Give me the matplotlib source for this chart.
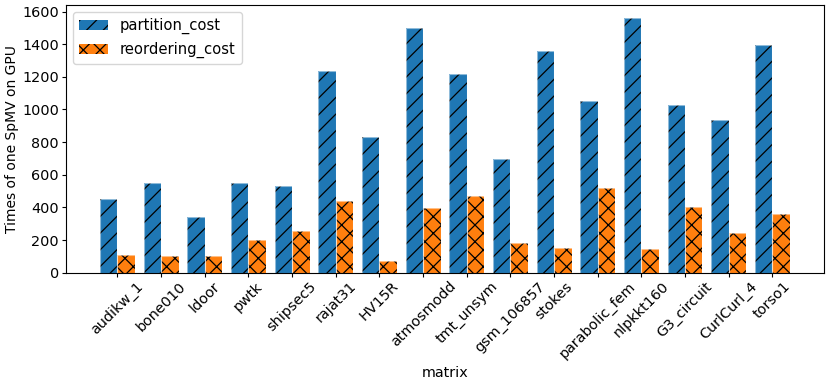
import matplotlib
matplotlib.use('Agg')
import matplotlib.pyplot as plt
import numpy as np

matrices = ['audikw_1', 'bone010', 'ldoor', 'pwtk', 'shipsec5', 'rajat31', 'HV15R',
            'atmosmodd', 'tmt_unsym', 'gsm_106857', 'stokes', 'parabolic_fem',
            'nlpkkt160', 'G3_circuit', 'CurlCurl_4', 'torso1']
partition_cost = [453, 552, 343, 550, 534, 1235, 831, 1502, 1217, 694, 1361,
                  1051, 1559, 1027, 933, 1392]
reordering_cost = [108, 103, 102, 201, 257, 439, 71, 394, 467, 180, 149,
                   518, 145, 402, 243, 359]
yticks = [0, 200, 400, 600, 800, 1000, 1200, 1400, 1600]

DPI = 100
FS = 10.4
plt.rcParams['hatch.linewidth'] = 0.9
fig = plt.figure(figsize=(830 / DPI, 386 / DPI), dpi=DPI)
ax = fig.add_axes([65.5 / 830, (386 - 272.7) / 386, (824.3 - 65.5) / 830, (272.7 - 5) / 386])

x = np.arange(len(matrices))
w = 0.4
b1 = ax.bar(x - w / 2, partition_cost, w, color='#1f77b4', edgecolor='black', linewidth=0,
            hatch='//', label='partition_cost')
b2 = ax.bar(x + w / 2, reordering_cost, w, color='#ff7f0e', edgecolor='black', linewidth=0,
            hatch='xx', label='reordering_cost')
# light rims around bars
ax.bar(x - w / 2, partition_cost, w, fill=False, edgecolor='white', linewidth=0.8, alpha=0.5)
ax.bar(x + w / 2, reordering_cost, w, fill=False, edgecolor='white', linewidth=0.8, alpha=0.5)

ax.set_xticks(x)
ax.set_xticklabels(matrices, rotation=45, fontsize=FS)
ax.set_yticks(yticks)
ax.tick_params(axis='both', labelsize=FS, length=3, pad=1.7)
ax.set_ylim(0, 1640)
ax.set_xlabel('matrix', fontsize=FS)
ax.set_ylabel('Times of one SpMV on GPU', fontsize=10, labelpad=2.5)
ax.legend(handles=[b1, b2], loc='upper left', fontsize=10.6)

fig.savefig('out.png', dpi=DPI)
